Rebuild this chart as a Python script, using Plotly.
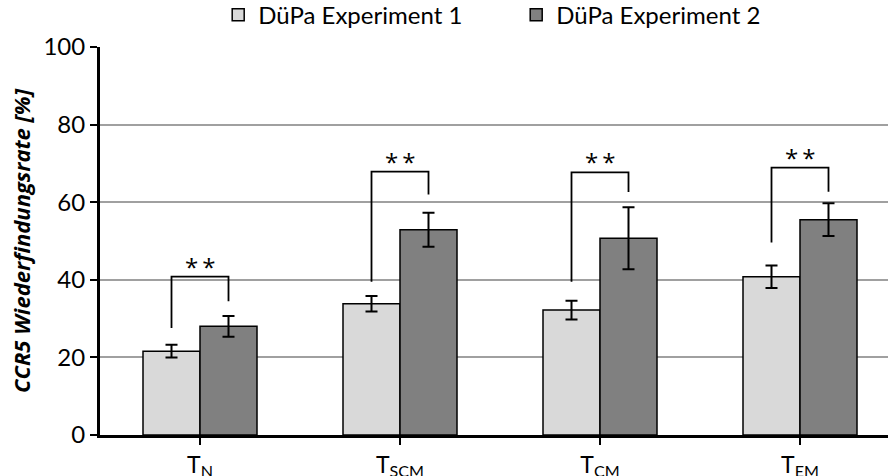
import plotly.graph_objects as go

categories = ["T<sub>N</sub>", "T<sub>SCM</sub>", "T<sub>CM</sub>", "T<sub>EM</sub>"]
series_names = ["DüPa Experiment 1", "DüPa Experiment 2"]
exp1_values = [21.6, 33.8, 32.2, 40.8]
exp1_errors = [1.65, 2.0, 2.4, 2.9]
exp2_values = [28.0, 52.9, 50.7, 55.5]
exp2_errors = [2.7, 4.4, 8.0, 4.2]
# significance brackets: top of bracket, end of left leg, end of right leg
bracket_top = [40.8, 67.9, 67.7, 68.9]
bracket_left_end = [27.6, 39.5, 39.5, 49.6]
bracket_right_end = [34.5, 62.0, 62.6, 62.7]
sig_labels = ["*\u2009*", "*\u2009*", "*\u2009*", "*\u2009*"]
y_ticks = [0, 20, 40, 60, 80, 100]

FONT = "Lato"
bargap = 0.43
half = (1 - bargap) / 4  # offset of each bar centre from category centre

fig = go.Figure()
fig.add_trace(go.Bar(
    x=categories, y=exp1_values, name=series_names[0],
    marker=dict(color="#d9d9d9", line=dict(color="black", width=1.5)),
    error_y=dict(type="data", array=exp1_errors, color="black", thickness=2, width=6),
))
fig.add_trace(go.Bar(
    x=categories, y=exp2_values, name=series_names[1],
    marker=dict(color="#808080", line=dict(color="black", width=1.5)),
    error_y=dict(type="data", array=exp2_errors, color="black", thickness=2, width=6),
))

for i in range(len(categories)):
    xl = i - half
    xr = i + half
    fig.add_shape(type="path",
                  path=f"M {xl},{bracket_left_end[i]} L {xl},{bracket_top[i]} L {xr},{bracket_top[i]} L {xr},{bracket_right_end[i]}",
                  xref="x", yref="y", line=dict(color="black", width=1.8))
    fig.add_annotation(x=i, y=bracket_top[i], text=sig_labels[i], showarrow=False,
                       xref="x", yref="y", yanchor="bottom", yshift=-8,
                       font=dict(family="Open Sans", size=24, color="black"))

fig.update_layout(
    width=888, height=476,
    margin=dict(l=100, r=0, t=47, b=41, autoexpand=False),
    paper_bgcolor="white", plot_bgcolor="white",
    barmode="group", bargap=bargap, bargroupgap=0,
    font=dict(family=FONT, size=24, color="black"),
    showlegend=True,
    legend=dict(orientation="h", x=0.15, xanchor="left", y=1.082, yanchor="middle",
                font=dict(family=FONT, size=24, color="black"),
                entrywidth=253, entrywidthmode="pixels",
                bgcolor="rgba(0,0,0,0)", itemclick=False),
)
fig.update_xaxes(
    type="category", range=[-0.5, 3.44],
    showline=True, linecolor="black", linewidth=3,
    ticks="outside", ticklen=7, tickwidth=2, tickcolor="black",
    tickfont=dict(family=FONT, size=23, color="black"),
    showgrid=False, zeroline=False,
)
fig.update_yaxes(
    range=[0, 100], tickvals=y_ticks,
    showline=True, linecolor="black", linewidth=3,
    ticks="outside", ticklen=7, tickwidth=2, tickcolor="black",
    tickfont=dict(family=FONT, size=24, color="black"),
    showgrid=True, gridcolor="#a0a0a0", gridwidth=1.5, zeroline=False,
    title=dict(text="<b><i>CCR5 Wiederfindungsrate [%]</i></b>",
               font=dict(family="Open Sans", size=22, color="black"), standoff=7),
)

fig.write_html("out.html")
